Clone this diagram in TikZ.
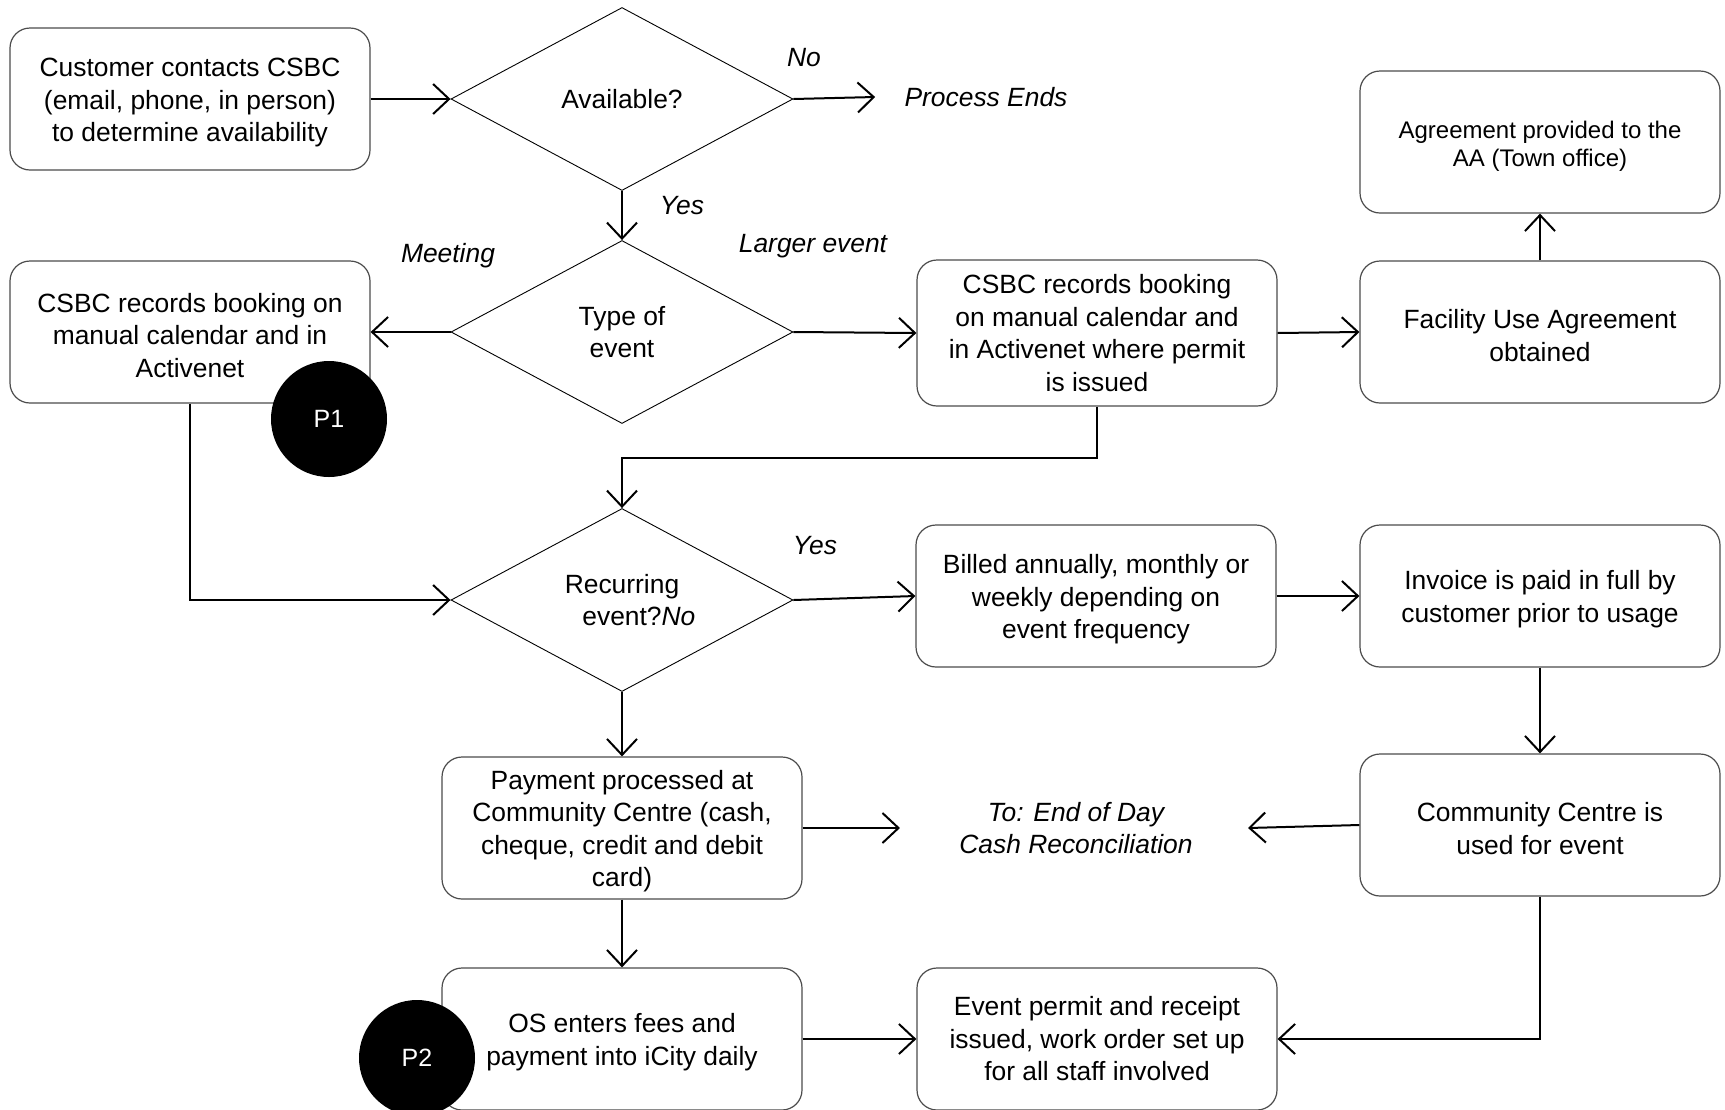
\documentclass[tikz,border=0pt]{standalone}
\usepackage{fontspec}
\setmainfont{Liberation Sans}
\usetikzlibrary{shapes.geometric,arrows.meta}
\newcommand\mainfs{\fontsize{13.2}{16.25}\selectfont}
\newcommand\smallfs{\fontsize{12}{14.3}\selectfont}
\newcommand\tup{\rule{0pt}{12.9pt}}
\tikzset{
  box/.style={draw=black!70, line width=0.6pt, rounded corners=10pt, minimum width=180pt, minimum height=71pt, align=center, font=\mainfs, inner sep=0pt, fill=white},
  dec/.style={diamond, draw, line width=0.45pt, minimum width=171pt, minimum height=91.5pt, inner sep=0pt, align=center, font=\mainfs},
  conn/.style={line width=1pt, -{Straight Barb[length=8pt,width=15pt,line width=1pt]}},
  lbl/.style={font=\mainfs\itshape, align=center, inner sep=0pt},
  pcirc/.style={circle, fill=black, minimum size=58pt, inner sep=0pt, text=white, font=\fontsize{12.5}{14}\selectfont}
}
\begin{document}
\begin{tikzpicture}[x=0.5pt,y=-0.5pt]
\useasboundingbox (0,0) rectangle (1725,1109);
\clip (0,0) rectangle (1725,1109);
% boxes
\node[box] (cust) at (190,99) {\tup Customer contacts CSBC\\(email, phone, in person)\\to determine availability};
\node[dec] (avail) at (622,99) {Available?};
\node[lbl] (pe) at (986,97) {Process Ends};
\node[lbl] (no1) at (804,58) {No};
\node[lbl] (yes1) at (682,206) {Yes};
\node[dec] (type) at (622,332) {Type of\\event};
\node[lbl] (meet) at (448,256) {Meeting};
\node[lbl] (large) at (813,246) {Larger event};
\node[box] (csbcL) at (190,332) {\tup CSBC records booking on\\manual calendar and in\\Activenet};
\node[box, minimum height=73pt] (csbcR) at (1097,333) {CSBC records booking\\on manual calendar and\\in Activenet where permit\\is issued};
\node[box] (fac) at (1540,332) {\tup Facility Use Agreement\\obtained};
\node[box, font=\smallfs] (agr) at (1540,142) {\tup Agreement provided to the\\AA (Town office)};
\node[dec] (rec) at (622,600) {Recurring\\event?\rlap{\itshape No}};
\node[lbl] (yes2) at (815,546) {Yes};
\node[box] (billed) at (1096,596) {\tup Billed annually, monthly or\\weekly depending on\\event frequency};
\node[box] (inv) at (1540,596) {\tup Invoice is paid in full by\\customer prior to usage};
\node[box] (pay) at (622,828) {\tup Payment processed at\\Community Centre (cash,\\cheque, credit and debit\\card)};
\node[lbl] (todo) at (1076,828) {To: End of Day\\Cash Reconciliation};
\node[box] (cc) at (1540,825) {\tup Community Centre is\\used for event};
\node[box] (os) at (622,1039) {\tup OS enters fees and\\payment into iCity daily};
\node[box] (ev) at (1097,1039) {Event permit and receipt\\issued, work order set up\\for all staff involved};
% connectors
\draw[conn] (cust.east) -- (avail.west);
\draw[conn] (avail.east) -- ([xshift=-14.5pt]pe.west);
\draw[conn] (avail.south) -- (type.north);
\draw[conn] (type.west) -- (csbcL.east);
\draw[conn] (type.east) -- (csbcR.west);
\draw[conn] (csbcR.east) -- (fac.west);
\draw[conn] (fac.north) -- (agr.south);
\draw[conn] (csbcR.south) -- ++(0,51) -| (rec.north);
\draw[conn] (csbcL.south) |- (rec.west);
\draw[conn] (rec.east) -- (billed.west);
\draw[conn] (billed.east) -- (inv.west);
\draw[conn] (inv.south) -- (cc.north);
\draw[conn] (rec.south) -- (pay.north);
\draw[conn] (pay.east) -- ([xshift=-29.5pt]todo.west);
\draw[conn] (cc.west) -- ([xshift=27.5pt]todo.east);
\draw[conn] (pay.south) -- (os.north);
\draw[conn] (os.east) -- (ev.west);
\draw[conn] (cc.south) |- (ev.east);
% markers
\node[pcirc] (p1) at (329,419) {P1};
\node[pcirc] (p2) at (417,1058) {P2};
\end{tikzpicture}
\end{document}
